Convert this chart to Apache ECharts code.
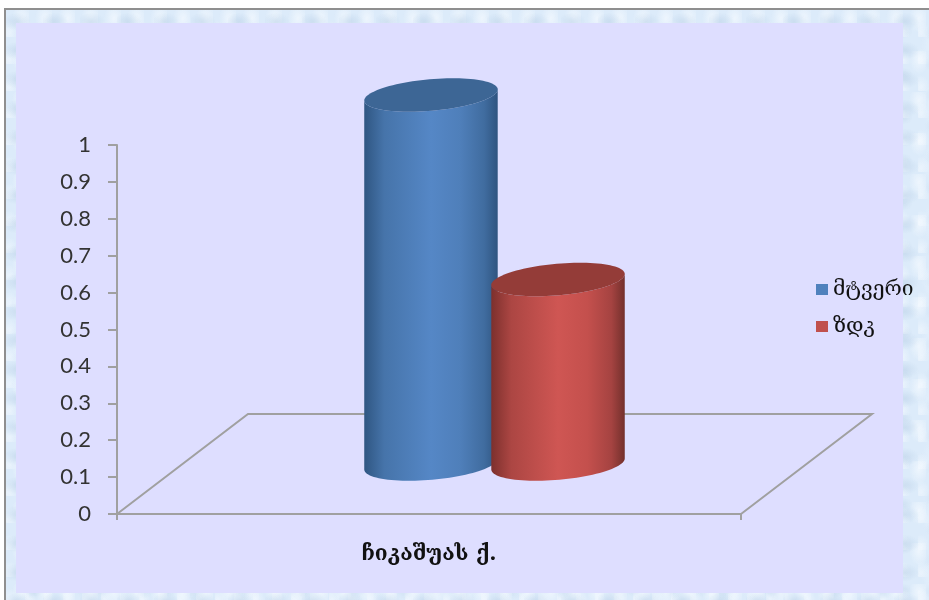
<!DOCTYPE html>
<html>
<head>
<meta charset="utf-8">
<title>მტვერი / ზდკ</title>
<script src="https://cdn.jsdelivr.net/npm/echarts@6/dist/echarts.min.js"></script>
<style>
  html, body { margin: 0; padding: 0; background: #fff; }
  #frame {
    position: absolute; left: 4px; top: 8px; width: 925px; height: 592px; box-sizing: border-box;
    border-left: 2px solid #8f8f8f; border-top: 2px solid #8f8f8f;
    background-color: #dcebfa;
    background-image:
      radial-gradient(ellipse 14px 9px at 30% 40%, rgba(185,207,230,.5), transparent),
      radial-gradient(ellipse 10px 15px at 70% 20%, rgba(245,250,255,.7), transparent),
      radial-gradient(ellipse 12px 8px at 55% 75%, rgba(195,215,236,.45), transparent),
      radial-gradient(ellipse 9px 12px at 15% 85%, rgba(245,250,255,.6), transparent),
      radial-gradient(ellipse 18px 22px at 85% 60%, rgba(238,246,255,.6), transparent),
      radial-gradient(ellipse 9px 7px at 40% 50%, rgba(190,210,232,.4), transparent);
    background-size: 37px 29px, 23px 41px, 53px 31px, 19px 27px, 47px 59px, 67px 43px;
  }
  #panel { position: absolute; left: 16px; top: 23px; width: 887px; height: 570px; background: #dedeff; }
  #chart { position: absolute; left: 0; top: 0; width: 929px; height: 600px; }
</style>
</head>
<body>
<div id="frame"></div>
<div id="panel"></div>
<div id="chart"></div>
<script>
// Dust and MPC levels for one street, drawn as cylinders standing on a 3D floor.
const categories = ['ჩიკაშუას ქ.'];
const dustValues = [1];
const limitValues = [0.5];
const dustName = 'მტვერი';
const limitName = 'ზდკ';
const yTicksMax = 1;

const FONT = '"DejaVu Serif", "DejaVu Sans", serif';
const chart = echarts.init(document.getElementById('chart'), null, { renderer: 'canvas' });

// Floor depth in pixels, and the bars' place on it.
const DEPTH_X = 131, DEPTH_Y = 100;
const BAR_WIDTH_RATIO = 0.2147, BAR_OFFSET_RATIO = 0.1018;
const TILT = -5 * Math.PI / 180, MINOR_RATIO = 0.235;

function ellipsePoint(cx, cy, a, b, t) {
  const x = a * Math.cos(t), y = b * Math.sin(t);
  return [cx + x * Math.cos(TILT) - y * Math.sin(TILT), cy + x * Math.sin(TILT) + y * Math.cos(TILT)];
}

function shaft(colors) {
  return new echarts.graphic.LinearGradient(0, 0, 1, 0, colors.map((c, i) => ({
    offset: [0, 0.15, 0.5, 0.72, 0.9, 1][i], color: c
  })));
}

function cylinder(side, colors, topColor) {
  return function (params, api) {
    const band = api.size([1, 0])[0];
    const base = api.coord([api.value(0), 0]);
    const top = api.coord([api.value(0), api.value(1)]);
    const cx = base[0] + DEPTH_X / 2 + side * band * BAR_OFFSET_RATIO;
    const by = base[1] - DEPTH_Y / 2;
    const ty = top[1] - DEPTH_Y / 2;
    const a = band * BAR_WIDTH_RATIO / 2, b = a * MINOR_RATIO;
    const pts = [];
    // Body outline: front arc of the base, then the matching arc at the top, which the lid covers.
    for (let i = 0; i <= 48; i++) pts.push(ellipsePoint(cx, by, a, b, Math.PI * i / 48));
    for (let i = 48; i >= 0; i--) pts.push(ellipsePoint(cx, ty, a, b, Math.PI * i / 48));
    const lid = [];
    for (let i = 0; i < 96; i++) lid.push(ellipsePoint(cx, ty, a, b, Math.PI * 2 * i / 96));
    return {
      type: 'group',
      children: [
        { type: 'polygon', shape: { points: pts }, style: { fill: shaft(colors) } },
        { type: 'polygon', shape: { points: lid }, style: { fill: topColor } }
      ]
    };
  };
}

function floor(params, api) {
  const band = api.size([1, 0])[0];
  const o = api.coord([api.value(0), 0]);
  const l = o[0] - band / 2, y = o[1];
  return {
    type: 'polyline',
    shape: { points: [[l, y], [l + DEPTH_X, y - DEPTH_Y], [l + band + DEPTH_X, y - DEPTH_Y], [l + band, y]] },
    style: { stroke: '#a0a0a0', lineWidth: 2, fill: null }
  };
}

chart.setOption({
  animation: false,
  backgroundColor: 'transparent',
  textStyle: { fontFamily: FONT },
  grid: { left: 117, right: 188, top: 145, bottom: 86 },
  legend: {
    show: true,
    data: [dustName, limitName],
    orient: 'vertical',
    left: 811,
    top: 274,
    itemWidth: 12,
    itemHeight: 11,
    itemGap: 16,
    icon: 'rect',
    textStyle: { fontFamily: FONT, fontSize: 21, color: '#111' }
  },
  xAxis: {
    type: 'category',
    data: categories,
    axisLine: { lineStyle: { color: '#a0a0a0', width: 2 } },
    axisTick: { show: true, length: 6, lineStyle: { color: '#a0a0a0', width: 2 } },
    axisLabel: { margin: 30, fontFamily: FONT, fontWeight: 'bold', fontSize: 21, color: '#111' }
  },
  yAxis: {
    type: 'value',
    min: 0,
    max: yTicksMax,
    interval: 0.1,
    splitLine: { show: false },
    axisLine: { show: true, lineStyle: { color: '#a0a0a0', width: 2 } },
    axisTick: { show: true, length: 9, lineStyle: { color: '#a0a0a0', width: 2 } },
    axisLabel: { margin: 26, fontFamily: 'Lato, sans-serif', fontSize: 22, color: '#333' }
  },
  series: [
    {
      type: 'custom', name: 'floor', z: 1, silent: true,
      encode: { x: 0, y: 1 },
      renderItem: floor,
      data: categories.map(c => [c, 0])
    },
    {
      type: 'custom', name: dustName, z: 2,
      itemStyle: { color: '#4f81bd' },
      encode: { x: 0, y: 1 },
      renderItem: cylinder(-1, ['#2f5682', '#4674aa', '#5587c6', '#4f7fba', '#406c9f', '#2f5480'], '#3d6695'),
      data: categories.map((c, i) => [c, dustValues[i]])
    },
    {
      type: 'custom', name: limitName, z: 3,
      itemStyle: { color: '#c0504d' },
      encode: { x: 0, y: 1 },
      renderItem: cylinder(1, ['#7d302d', '#ac4643', '#cf5653', '#c4504d', '#a54341', '#73302c'], '#943c38'),
      data: categories.map((c, i) => [c, limitValues[i]])
    }
  ]
});
</script>
</body>
</html>
